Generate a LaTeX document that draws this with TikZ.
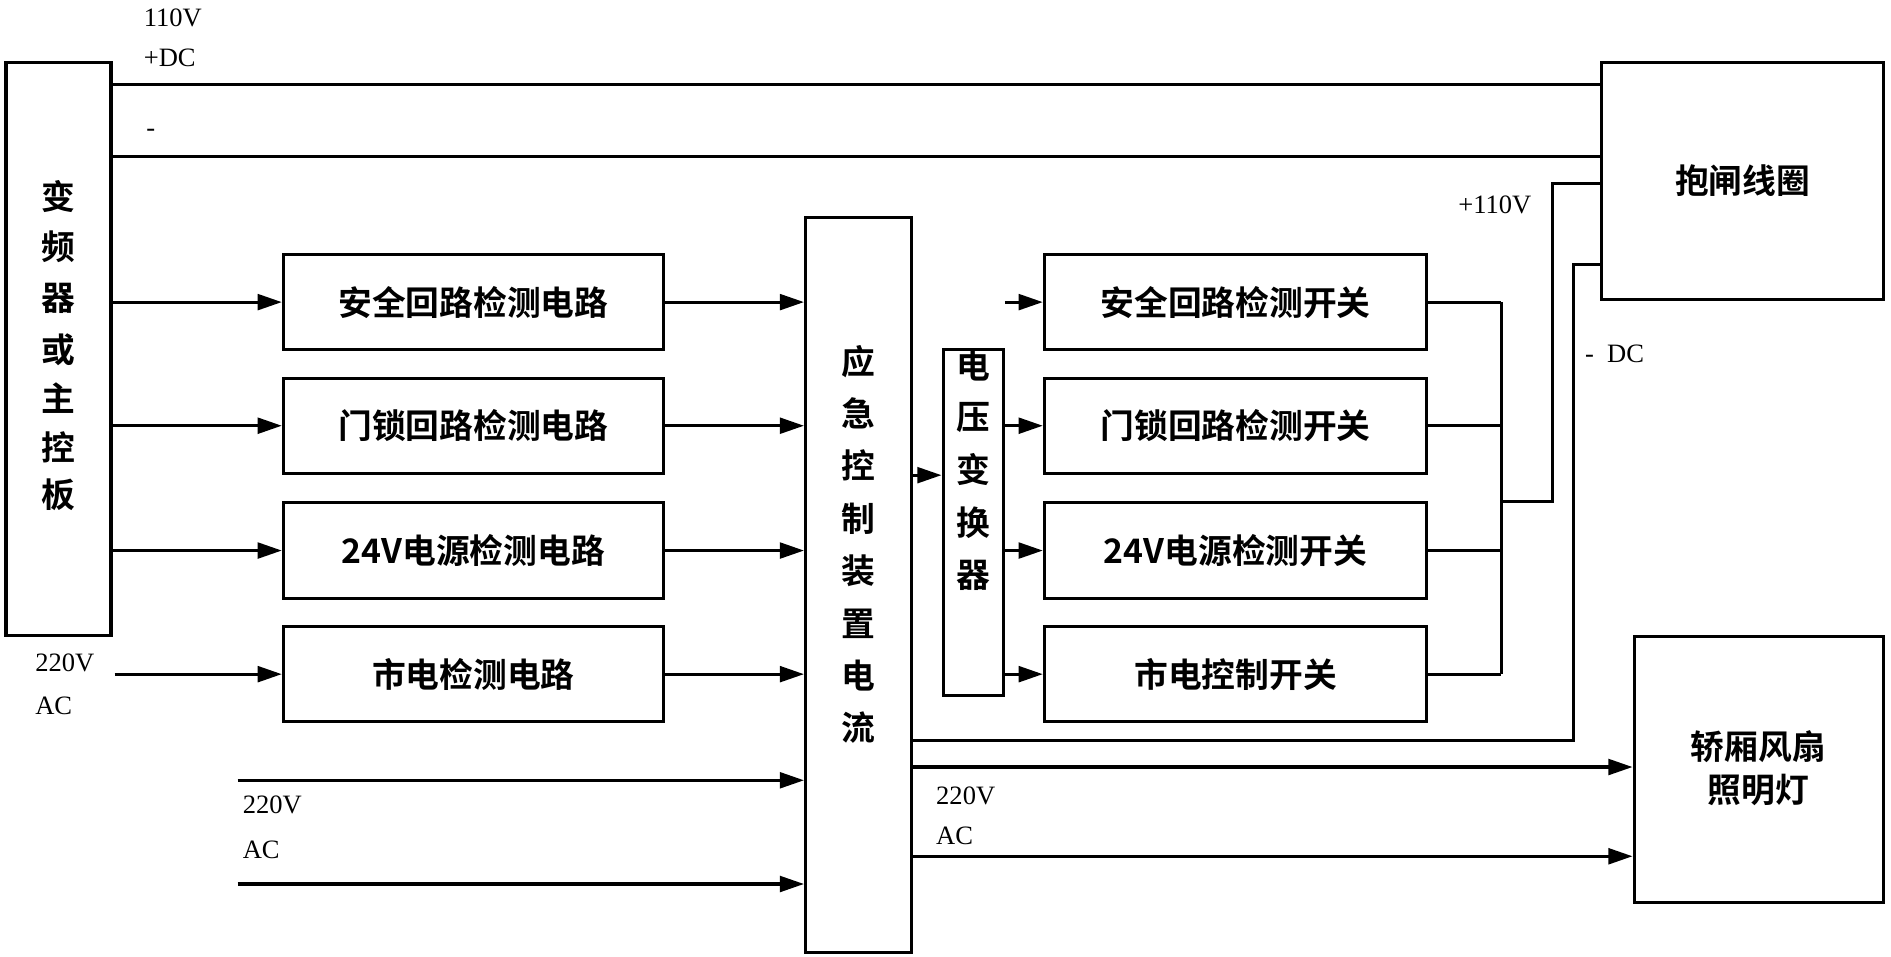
\documentclass[tikz,border=0pt]{standalone}
\usepackage{fontspec}
\setmainfont{Liberation Serif}
\newfontfamily\cjk{Noto Sans CJK SC Bold}
\usetikzlibrary{arrows.meta}
\begin{document}
\begin{tikzpicture}[x=1pt,y=-1pt,line width=2.6pt,
  box/.style={draw,rectangle,line width=2.6pt,inner sep=0pt},
  arr/.style={-{Triangle[length=20pt,width=13pt]}},
  ln/.style={line width=2.6pt},
  lab/.style={font=\fontsize{22}{24}\selectfont,anchor=west,inner sep=0pt},
  ct/.style={font=\cjk\fontsize{28}{31}\selectfont}]
\useasboundingbox (0,0) rectangle (1568,793);
% boxes
\node[box,minimum width=87pt,minimum height=475pt] (L) at (48.5,289.5) {};
\foreach \c/\y in {变/163,频/205,器/247,或/290,主/330,控/371,板/410}
  \node[ct] at (48,\y) {\c};
\node[box,minimum width=234pt,minimum height=196pt] (B) at (1445,150) {};
\node[ct] at (1445,150) {抱闸线圈};
\node[box,minimum width=207pt,minimum height=220pt] (F) at (1458.5,638) {};
\node[ct,align=center] at (1458,637) {轿厢风扇\\[4pt]照明灯};
\node[box,minimum width=88pt,minimum height=610pt] (C) at (712,485) {};
\foreach \c/\y in {应/300,急/343,控/386,制/430,装/473,置/517,电/560,流/603}
  \node[ct] at (712,\y) {\c};
\node[box,minimum width=50pt,minimum height=287pt] (V) at (807,433.5) {};
\foreach \c/\y in {电/303,压/346,变/389,换/433,器/477}
  \node[ct] at (807,\y) {\c};
\foreach \n/\y/\t in {1/250.5/安全回路检测电路,2/353/门锁回路检测电路,3/456.5/24V电源检测电路,4/559/市电检测电路}{
  \node[box,minimum width=315pt,minimum height=79pt] (l\n) at (392.5,\y) {};
  \node[ct] at (392.5,\y) {\t};
}
\foreach \n/\y/\t in {1/250.5/安全回路检测开关,2/353/门锁回路检测开关,3/456.5/24V电源检测开关,4/559/市电控制开关}{
  \node[box,minimum width=317pt,minimum height=79pt] (r\n) at (1024.5,\y) {};
  \node[ct] at (1024.5,\y) {\t};
}
% top lines
\coordinate (t1) at (92,70); \coordinate (t2) at (92,130);
\draw[ln] (t1) -- (1328,70);
\draw[ln] (t2) -- (1328,130);
\node[lab] at (118,15) {110V};
\node[lab] at (118,48) {+DC};
\node[lab] at (120,110) {-};
% left arrows
\foreach \n in {1,2,3} \draw[arr] (L.east |- l\n) -- (l\n.west);
\coordinate (s220) at (95,559);
\draw[arr] (s220) -- (l4.west);
\node[lab] at (28,550) {220V};
\node[lab] at (28,585) {AC};
\foreach \n in {1,2,3,4} \draw[arr] (l\n.east) -- (C.west |- l\n);
\coordinate (a1) at (197,647); \coordinate (a2) at (197,733);
\draw[arr] (a1) -- (C.west |- a1);
\draw[arr] (a2) -- (C.west |- a2);
\node[lab] at (200,667) {220V};
\node[lab] at (200,705) {AC};
\draw[arr] (C.east |- 0,394) -- (V.west |- 0,394);
\foreach \n in {1,2,3,4} \draw[arr] (V.east |- r\n) -- (r\n.west);
% right bus
\foreach \n in {1,2,3,4} \draw[ln] (r\n.east) -- (1245,0 |- r\n);
\draw[ln] (1245,250.5) -- (1245,559);
\draw[ln] (1245,416) -- (1287,416) -- (1287,152) -- (B.west |- 0,152);
\draw[ln] (C.east |- 0,614) -- (1305,614) -- (1305,219) -- (B.west |- 0,219);
\node[lab] at (1208,170) {+110V};
\node[lab] at (1313,293) {-\enspace DC};
\draw[arr] (C.east |- 0,636) -- (F.west |- 0,636);
\draw[arr] (C.east |- 0,710) -- (F.west |- 0,710);
\node[lab] at (775,660) {220V};
\node[lab] at (775,693) {AC};
\end{tikzpicture}
\end{document}
